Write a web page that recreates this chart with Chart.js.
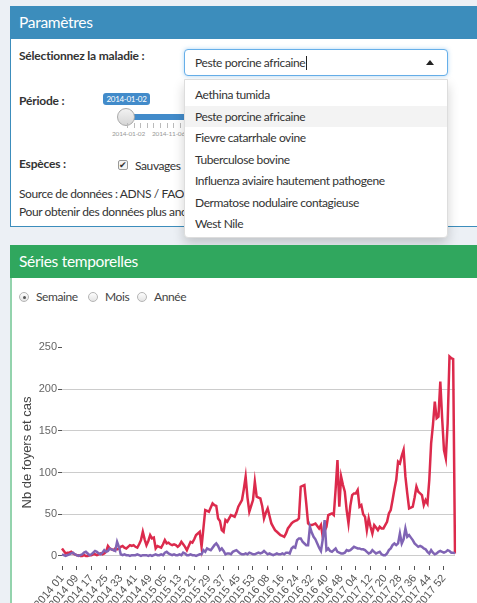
<!DOCTYPE html>
<html>
<head>
<meta charset="utf-8">
<script src="https://cdn.jsdelivr.net/npm/chart.js@4.4.0/dist/chart.umd.min.js"></script>
<style>
  html, body { margin:0; padding:0; width:477px; height:603px; overflow:hidden; background:#ecf0f5; font-family:Lato, "Open Sans", sans-serif; color:#333; }
  .abs { position:absolute; white-space:nowrap; }
  .box { position:absolute; left:10px; width:480px; background:#fff; box-sizing:border-box; }
  .hdr { height:33px; line-height:33px; color:#fff; font-size:15.5px; letter-spacing:-0.3px; padding-left:9px; }
  .lbl { font-weight:bold; font-size:12px; letter-spacing:-0.2px; line-height:16px; }
  .txt { font-size:12px; letter-spacing:-0.4px; line-height:16px; }
  .sel { left:184px; top:49px; width:264px; height:27px; border:1px solid #66afe9; border-radius:4px; box-sizing:border-box; background:#fff; box-shadow:0 0 4px rgba(102,175,233,.5); }
  .dd { left:184px; top:79px; width:264px; height:159px; border:1px solid #ddd; border-radius:0 0 4px 4px; box-sizing:border-box; background:#fff; box-shadow:0 6px 12px rgba(0,0,0,.18); padding-top:4px; }
  .dd div { height:21.5px; line-height:21.5px; padding-left:10px; font-size:12px; letter-spacing:-0.4px; color:#333; }
  .dd .on { background:#f3f3f3; }
  .radio { width:10px; height:10px; border:1px solid #b5b5b5; border-radius:50%; background:linear-gradient(#fdfdfd,#e4e4e4); box-sizing:border-box; }
  .radio.on::after { content:''; position:absolute; left:2.5px; top:2.5px; width:3px; height:3px; border-radius:50%; background:#555; }
</style>
</head>
<body>

<!-- Paramètres -->
<div class="box" style="top:6px;height:221px;border:1px solid #3c8dbc;">
  <div class="hdr" style="background:#3c8dbc;margin:-1px -1px 0 -1px;">Paramètres</div>
</div>
<div class="abs lbl" style="left:19px;top:48px;">Sélectionnez la maladie :</div>
<div class="abs lbl" style="left:19px;top:93px;">Période :</div>
<div class="abs" style="left:103px;top:93px;width:47px;height:12px;background:#428bca;border-radius:3px;color:#fff;font-size:8px;letter-spacing:-0.3px;line-height:12px;text-align:center;">2014-01-02</div>
<div class="abs" style="left:126px;top:114px;width:80px;height:6px;background:#428bca;"></div>
<div class="abs" style="left:117px;top:108px;width:18px;height:18px;border-radius:50%;border:1px solid #aaa;box-sizing:border-box;background:linear-gradient(#f2f2f2,#d6d6d6);"></div>
<div class="abs" style="left:127px;top:123px;width:60px;height:5px;background:repeating-linear-gradient(90deg,#bbb 0 1px,transparent 1px 6.6px);"></div>
<div class="abs" style="left:112px;top:129px;font-size:6.5px;letter-spacing:-0.2px;color:#999;line-height:9px;">2014-01-02</div>
<div class="abs" style="left:152px;top:129px;font-size:6.5px;letter-spacing:-0.2px;color:#999;line-height:9px;">2014-11-06</div>
<div class="abs lbl" style="left:19px;top:156px;">Espèces :</div>
<div class="abs" style="left:118px;top:160px;width:10px;height:10px;border:1px solid #999;border-radius:2px;box-sizing:border-box;background:#f4f4f4;font-size:9px;line-height:8px;text-align:center;color:#333;">✔</div>
<div class="abs txt" style="left:135px;top:158px;">Sauvages</div>
<div class="abs txt" style="left:19px;top:186px;">Source de données : ADNS / FAO Empres-i</div>
<div class="abs txt" style="left:19px;top:204px;">Pour obtenir des données plus anciennes</div>

<div class="abs sel">
  <div class="abs txt" style="left:10px;top:5px;">Peste porcine africaine<span style="display:inline-block;width:1px;height:14px;background:#222;vertical-align:-3px;margin-left:1px;"></span></div>
  <div class="abs" style="left:241px;top:10px;width:0;height:0;border-left:4px solid transparent;border-right:4px solid transparent;border-bottom:5px solid #222;"></div>
</div>
<div class="abs dd">
  <div>Aethina tumida</div>
  <div class="on">Peste porcine africaine</div>
  <div>Fievre catarrhale ovine</div>
  <div>Tuberculose bovine</div>
  <div>Influenza aviaire hautement pathogene</div>
  <div>Dermatose nodulaire contagieuse</div>
  <div>West Nile</div>
</div>

<!-- Séries temporelles -->
<div class="box" style="top:245px;height:400px;border-left:2px solid #93d3ad;">
  <div class="hdr" style="background:#30a75e;margin-left:-2px;padding-left:9px;">Séries temporelles</div>
</div>
<div class="abs radio on" style="left:19px;top:292px;"></div>
<div class="abs txt" style="left:36px;top:289px;color:#444;">Semaine</div>
<div class="abs radio" style="left:88px;top:292px;"></div>
<div class="abs txt" style="left:105px;top:289px;color:#444;">Mois</div>
<div class="abs radio" style="left:137px;top:292px;"></div>
<div class="abs txt" style="left:154px;top:289px;color:#444;">Année</div>

<canvas id="grafico" class="abs" style="left:12px;top:320px;" width="465" height="300"></canvas>

<script>
// semaines ISO affichées sur l'axe
const annees = [2014, 2015, 2016, 2017, 2018];
const semainesParAnnee = [52, 53, 52, 52, 6];
const yTicks = [0, 50, 100, 150, 200, 250];

// Peste porcine africaine - nb de foyers et cas par semaine
const serieRouge = [
  9,6,3,4,4,5,3,2,1,1, 0,0,1,0,0,1,1,2,2,1, 2,3,2,3,5,12,9,8,7,9,
  8,9,11,12,10,9,11,13,12,13, 11,10,14,19,29,20,13,18,25,21, 22,9,12,11,10,14,19,15,16,14,
  13,14,13,11,13,17,14,11,7,12, 17,16,20,25,27,29,11,33,55,54, 53,58,63,61,60,45,42,31,29,43,
  41,45,49,48,47,52,59,63,67,80, 95,70,53,60,67,89,71,70,69,60, 45,52,57,48,39,35,31,29,27,25,
  24,23,27,33,36,39,41,42,43,45, 83,84,85,63,39,37,37,38,39,36, 33,37,23,30,35,49,50,51,49,80,
  115,59,95,85,77,55,39,60,73,75, 75,79,59,61,50,47,31,45,35,27, 37,34,31,35,33,33,37,41,51,55,
  67,80,91,113,111,120,127,95,75,57, 58,59,70,83,77,75,73,61,67,63, 91,135,157,185,165,167,209,165,127,117,
  159,239,237,236,3
];
const serieViolette = [
  2,1,0,1,2,3,4,2,1,0, 1,2,4,5,3,1,2,4,6,5, 3,2,4,7,5,6,9,8,7,6,
  17,11,2,1,2,1,1,0,1,1, 1,2,1,0,1,1,1,0,1,0, 1,2,1,1,2,1,4,5,3,2,
  1,2,1,1,2,1,4,3,1,1, 2,1,1,0,1,2,2,7,5,9, 8,7,10,13,15,12,7,9,6,2,
  3,3,2,5,6,7,5,3,2,2, 3,2,4,3,2,2,3,4,3,4, 6,4,2,3,2,1,2,3,2,2,
  3,2,4,4,3,9,11,10,19,21, 21,17,15,13,13,35,28,23,20,15, 10,6,20,43,7,9,6,5,7,9,
  5,4,3,3,4,7,6,7,9,11, 10,9,9,8,8,7,5,3,4,7, 5,3,4,5,2,1,1,3,7,9,
  13,15,13,15,27,15,20,33,23,25, 22,19,15,13,11,12,11,9,8,5, 3,7,4,2,3,5,6,5,4,5,
  7,6,4,4,3
];

const semaines = [];
annees.forEach((a, k) => {
  for (let w = 1; w <= semainesParAnnee[k]; w++) semaines.push(a + ' ' + String(w).padStart(2, '0'));
});

Chart.defaults.font.family = '"Liberation Sans", Arial, sans-serif';

new Chart(document.getElementById('grafico').getContext('2d'), {
  type: 'line',
  data: {
    labels: semaines,
    datasets: [
      { label: 'Domestiques', data: serieViolette, borderColor: '#8064b4', borderWidth: 2.5, pointRadius: 0, tension: 0 },
      { label: 'Sauvages', data: serieRouge, borderColor: '#dc2a4c', borderWidth: 2.5, pointRadius: 0, tension: 0 }
    ]
  },
  options: {
    responsive: false, animation: false,
    layout: { padding: { top: 19, right: 22, left: 0, bottom: 0 } },
    plugins: { legend: { display: false }, tooltip: { enabled: false } },
    scales: {
      x: {
        type: 'category', offset: false, border: { display: false },
        grid: { drawOnChartArea: false, drawTicks: true, tickLength: 4, tickColor: c => c.index % 8 === 0 ? '#555' : 'rgba(0,0,0,0)' },
        ticks: { autoSkip: false, maxRotation: 50, minRotation: 50, padding: 2, color: '#555', font: { size: 11 },
                 callback: (v, i) => i % 8 === 0 ? semaines[i] : '' },
        afterFit: s => { s.height = 54; }
      },
      y: {
        min: -12, max: 260, border: { display: false },
        afterBuildTicks: s => { s.ticks = yTicks.map(v => ({ value: v })); },
        grid: { color: c => c.tick && c.tick.value === 250 ? 'rgba(0,0,0,0)' : '#ccc', tickColor: '#555', tickLength: 4 },
        ticks: { padding: 1, color: '#666', font: { size: 11 } },
        title: { display: true, text: 'Nb de foyers et cas', color: '#444', font: { size: 13 }, padding: { top: 8, bottom: 0 } },
        afterFit: s => { s.width = 50; }
      }
    }
  }
});
</script>
</body>
</html>
